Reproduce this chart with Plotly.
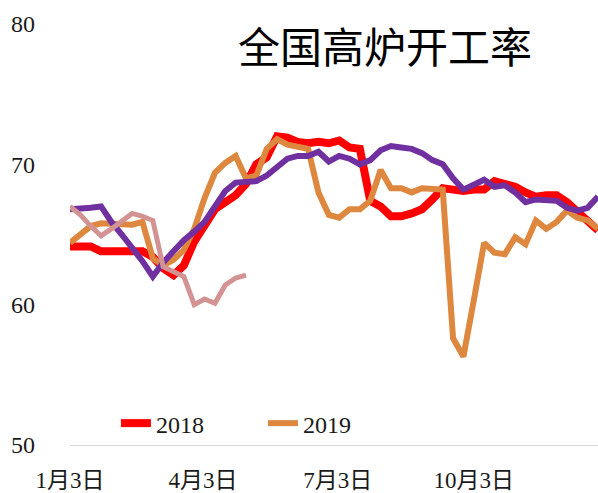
import pandas as pd
import plotly.graph_objects as go

# weekly observation dates (one per week, from 3 Jan)
dates = pd.date_range("2019-01-03", periods=52, freq="7D")

tick_dates = ["2019-01-03", "2019-04-03", "2019-07-03", "2019-10-03"]
tick_labels = ["1月3日", "4月3日", "7月3日", "10月3日"]

s2018 = [64.15, 64.15, 64.15, 63.8, 63.8, 63.8, 63.8, 63.8, 63.4, 62.6,
         62.1, 62.8, 64.5, 65.6, 66.8, 67.3, 67.8, 68.6, 70.0, 70.5,
         72.0, 71.9, 71.6, 71.5, 71.6, 71.5, 71.7, 71.2, 71.1, 67.4,
         67.0, 66.3, 66.3, 66.5, 66.8, 67.5, 68.3, 68.2, 68.1, 68.2,
         68.2, 68.8, 68.6, 68.4, 68.0, 67.7, 67.8, 67.8, 67.3, 66.6,
         66.0, 65.3]

s2019 = [64.4, 65.0, 65.6, 65.8, 65.8, 65.7, 65.7, 65.9, 63.3, 62.8,
         63.2, 63.9, 65.4, 67.6, 69.4, 70.1, 70.6, 69.0, 69.2, 71.1,
         71.8, 71.4, 71.2, 71.1, 68.0, 66.4, 66.2, 66.8, 66.8, 67.4,
         69.6, 68.3, 68.3, 68.0, 68.3, 68.2, 68.2, 57.6, 56.3, 60.3,
         64.4, 63.7, 63.6, 64.8, 64.3, 66.0, 65.4, 65.9, 66.7, 66.2,
         66.0, 65.4]

s2017 = [66.8, 66.8, 66.9, 67.0, 65.9, 65.0, 64.1, 63.1, 62.0, 63.0,
         63.8, 64.6, 65.2, 65.9, 67.0, 68.1, 68.7, 68.8, 68.8, 69.2,
         69.8, 70.4, 70.6, 70.6, 70.9, 70.2, 70.6, 70.4, 70.0, 70.3,
         71.0, 71.3, 71.2, 71.1, 70.8, 70.3, 70.0, 69.0, 68.2, 68.5,
         68.9, 68.4, 68.5, 68.0, 67.3, 67.5, 67.4, 67.4, 66.9, 66.7,
         66.9, 67.7]

s2020 = [67.0, 66.4, 65.6, 64.9, 65.4, 65.9, 66.5, 66.3, 66.0, 62.7,
         62.3, 62.0, 60.0, 60.4, 60.1, 61.4, 61.9, 62.1]

series = [
    ("2018", s2018, "#FF0000", 8, True),
    ("2019", s2019, "#DE873F", 6, True),
    ("2017", s2017, "#7030A0", 6, False),
    ("2020", s2020, "#D39393", 5, False),
]

fig = go.Figure()
for name, vals, color, width, show in series:
    fig.add_trace(go.Scatter(
        x=dates[:len(vals)], y=vals, name=name, mode="lines",
        line=dict(color=color, width=width, shape="linear"),
        showlegend=show,
    ))

fig.update_layout(
    width=598, height=493,
    margin=dict(l=70, r=0, t=24, b=43),
    paper_bgcolor="white", plot_bgcolor="white",
    font=dict(family="Liberation Serif, Noto Sans CJK SC, serif", size=24, color="#1a1a1a"),
    title=dict(text="全国高炉开工率", x=385 / 598, xanchor="center",
               y=1 - 48 / 493, yanchor="middle", yref="container",
               font=dict(family="Noto Sans CJK SC", size=42, color="#000000")),
    showlegend=True,
    legend=dict(orientation="h", x=0.087, xanchor="left", y=0.051, yanchor="middle",
                bgcolor="rgba(0,0,0,0)", entrywidth=102, entrywidthmode="pixels",
                font=dict(family="Liberation Serif", size=24, color="#1a1a1a")),
    xaxis=dict(type="date", range=["2019-01-03", "2019-12-26"],
               tickvals=tick_dates, ticktext=tick_labels,
               showgrid=False, zeroline=False, showline=True, linecolor="#D9D9D9",
               linewidth=1, ticks="", ticklabelstandoff=14,
               tickfont=dict(family="Liberation Serif, Noto Sans CJK SC", size=23)),
    yaxis=dict(range=[50, 80], tickvals=[50, 60, 70, 80], showgrid=False,
               zeroline=False, showline=False, ticks="", ticklabelstandoff=34,
               tickfont=dict(family="Liberation Serif", size=24)),
)

fig.write_html("out.html")
